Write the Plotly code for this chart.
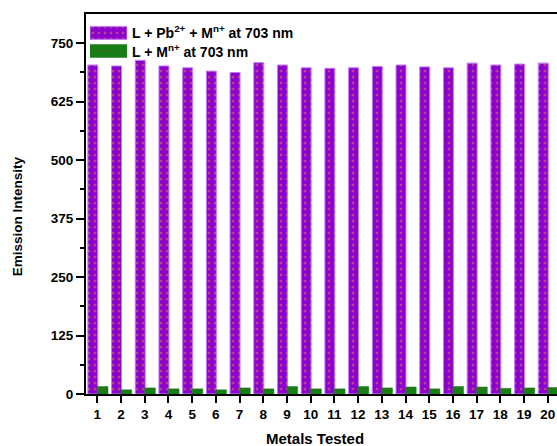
import plotly.graph_objects as go

# Metal ions tested (numbered 1-20)
metals = list(range(1, 21))

# Emission intensity at 703 nm
pb_with_metal = [703, 701, 713, 701, 697, 690, 687, 708, 703, 697,
                 696, 697, 700, 703, 699, 697, 707, 703, 705, 707]
ligand_with_metal = [16, 9, 13, 11, 11, 9, 13, 11, 16, 11,
                     11, 16, 13, 15, 11, 16, 15, 12, 13, 14]

y_ticks = [0, 125, 250, 375, 500, 625, 750]

series_names = ["<b>L + Pb<sup>2+</sup> + M<sup>n+</sup> at 703 nm</b>",
                "<b>L + M<sup>n+</sup> at 703 nm</b>"]

PURPLE = "#8A00CC"
PURPLE_EDGE = "#C27BFF"
PURPLE_DOT = "#E8805A"
GREEN = "#157F15"
GREEN_DOT = "#6A4A2A"

FONT = "Liberation Sans, Arial, sans-serif"

purple_style = dict(color=PURPLE, line=dict(color=PURPLE_EDGE, width=1),
                    pattern=dict(shape=".", fgcolor=PURPLE_DOT, bgcolor=PURPLE,
                                 size=6, solidity=0.2))
green_style = dict(color=GREEN, line=dict(color=GREEN, width=0.5),
                   pattern=dict(shape=".", fgcolor=GREEN_DOT, bgcolor=GREEN,
                                size=6, solidity=0.12))

fig = go.Figure()

fig.add_trace(go.Bar(x=metals, y=pb_with_metal, offset=-0.40, width=0.42,
                     marker=purple_style, showlegend=False))
fig.add_trace(go.Bar(x=metals, y=ligand_with_metal, offset=0.0, width=0.45,
                     marker=green_style, showlegend=False))

# Legend swatches drawn on a small hidden axis pair so they keep the fill pattern
fig.add_trace(go.Bar(x=[1], y=[1], base=0, orientation="h", width=0.72,
                     marker=purple_style, xaxis="x2", yaxis="y2", showlegend=False,
                     hoverinfo="skip"))
fig.add_trace(go.Bar(x=[1], y=[0], base=0, orientation="h", width=0.72,
                     marker=green_style, xaxis="x2", yaxis="y2", showlegend=False,
                     hoverinfo="skip"))

fig.update_layout(
    width=557, height=446,
    margin=dict(l=86, r=0, t=14, b=52),
    paper_bgcolor="white", plot_bgcolor="white",
    barmode="overlay",
    font=dict(family=FONT, color="black"),
    xaxis=dict(
        range=[0.523, 20.39],
        tickmode="array", tickvals=metals, ticktext=[str(m) for m in metals],
        ticks="outside", ticklen=7, tickwidth=1.5, tickcolor="black",
        tickfont=dict(size=13.5, weight="bold", family=FONT),
        showline=True, linecolor="black", linewidth=2, mirror=True,
        showgrid=False, zeroline=False,
    ),
    yaxis=dict(
        range=[0, 812],
        tickmode="array", tickvals=y_ticks,
        ticks="outside", ticklen=8, tickwidth=1.5, tickcolor="black",
        tickfont=dict(size=13.5, weight="bold", family=FONT),
        minor=dict(dtick=62.5, tick0=0, ticks="outside", ticklen=4,
                   tickwidth=1.5, tickcolor="black", showgrid=False),
        showline=True, linecolor="black", linewidth=2, mirror=False,
        showgrid=False, zeroline=False,
    ),
    xaxis2=dict(domain=[0.0085, 0.087], range=[0, 1], anchor="y2",
                visible=False, fixedrange=True),
    yaxis2=dict(domain=[0.879, 0.974], range=[-0.5, 1.5], anchor="x2",
                visible=False, fixedrange=True),
    annotations=[
        dict(text=series_names[0], xref="paper", yref="paper",
             x=0.0934, y=0.953, xanchor="left", yanchor="middle", showarrow=False,
             font=dict(size=14, family=FONT, color="black")),
        dict(text=series_names[1], xref="paper", yref="paper",
             x=0.0934, y=0.903, xanchor="left", yanchor="middle", showarrow=False,
             font=dict(size=14, family=FONT, color="black")),
        dict(text="<b>Metals Tested</b>", xref="paper", yref="paper",
             x=0.486, y=-0.116, xanchor="center", yanchor="middle", showarrow=False,
             font=dict(size=15, family=FONT, color="black")),
        dict(text="<b>Emission Intensity</b>", xref="paper", yref="paper",
             x=-0.1465, y=0.468, xanchor="center", yanchor="middle", showarrow=False,
             textangle=-90, font=dict(size=13.5, family=FONT, color="black")),
    ],
)

fig.write_html("out.html")
